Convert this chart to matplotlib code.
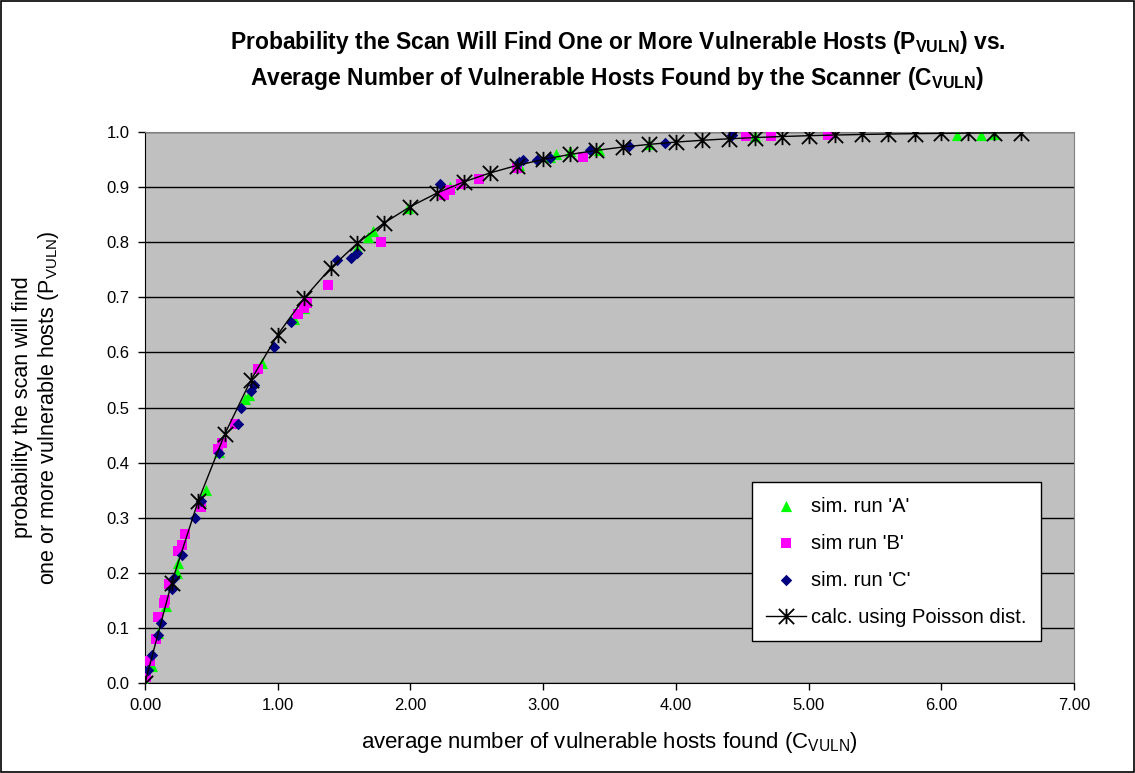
import matplotlib
matplotlib.use("Agg")
import matplotlib.pyplot as plt
from matplotlib.path import Path
from matplotlib.patches import Rectangle

plt.rcParams['font.family'] = ['Liberation Sans', 'DejaVu Sans']
plt.rcParams['mathtext.fontset'] = 'custom'
plt.rcParams['mathtext.rm'] = 'Liberation Sans'
plt.rcParams['mathtext.bf'] = 'Liberation Sans:bold'

# ---- data ----
a_x = [0.00, 0.05, 0.10, 0.16, 0.24, 0.25, 0.42, 0.46, 0.56, 0.75, 0.78, 0.88, 1.12, 1.20,
       1.60, 1.68, 1.72, 1.98, 2.30, 2.82, 3.05, 3.10, 3.20, 3.42, 3.80, 4.60, 6.12, 6.30, 6.40]
a_y = [0.000, 0.030, 0.090, 0.140, 0.200, 0.218, 0.330, 0.350, 0.420, 0.515, 0.522, 0.580, 0.660, 0.680,
       0.790, 0.810, 0.820, 0.862, 0.900, 0.940, 0.955, 0.960, 0.965, 0.967, 0.978, 0.993, 0.995, 0.995, 0.996]

b_x = [0.01, 0.04, 0.08, 0.10, 0.14, 0.15, 0.18, 0.25, 0.28, 0.30, 0.42, 0.55, 0.58, 0.68, 0.85,
       1.15, 1.20, 1.22, 1.38, 1.78, 2.25, 2.30, 2.38, 2.52, 2.80, 3.30, 4.53, 4.72, 5.15]
b_y = [0.010, 0.040, 0.080, 0.120, 0.145, 0.151, 0.180, 0.240, 0.250, 0.270, 0.320, 0.425, 0.435, 0.470, 0.570,
       0.670, 0.680, 0.690, 0.722, 0.800, 0.885, 0.895, 0.905, 0.915, 0.935, 0.955, 0.993, 0.993, 0.995]

c_x = [0.02, 0.05, 0.10, 0.12, 0.20, 0.22, 0.28, 0.38, 0.42, 0.56, 0.70, 0.72, 0.80, 0.82, 0.97,
       1.10, 1.45, 1.55, 1.60, 2.22, 2.82, 2.85, 2.95, 3.05, 3.35, 3.65, 3.92, 4.42]
c_y = [0.024, 0.050, 0.087, 0.108, 0.170, 0.190, 0.232, 0.300, 0.330, 0.418, 0.470, 0.500, 0.530, 0.540, 0.610,
       0.656, 0.768, 0.772, 0.780, 0.905, 0.945, 0.950, 0.950, 0.952, 0.967, 0.975, 0.980, 0.995]

p_x = [0.0, 0.2, 0.4, 0.6, 0.8, 1.0, 1.2, 1.4, 1.6, 1.8, 2.0, 2.2, 2.4, 2.6, 2.8, 3.0, 3.2,
       3.4, 3.6, 3.8, 4.0, 4.2, 4.4, 4.6, 4.8, 5.0, 5.2, 5.4, 5.6, 5.8, 6.0, 6.2, 6.4, 6.6]
p_y = [0.0000, 0.1813, 0.3297, 0.4512, 0.5507, 0.6321, 0.6988, 0.7534, 0.7981, 0.8347, 0.8647,
       0.8892, 0.9093, 0.9257, 0.9392, 0.9502, 0.9592, 0.9666, 0.9727, 0.9776, 0.9817, 0.9850,
       0.9877, 0.9899, 0.9918, 0.9933, 0.9945, 0.9955, 0.9963, 0.9970, 0.9975, 0.9980, 0.9983, 0.9986]

x_ticks = [0, 1, 2, 3, 4, 5, 6, 7]
x_tick_labels = ['0.00', '1.00', '2.00', '3.00', '4.00', '5.00', '6.00', '7.00']
y_ticks = [0.0, 0.1, 0.2, 0.3, 0.4, 0.5, 0.6, 0.7, 0.8, 0.9, 1.0]
y_tick_labels = ['0.0', '0.1', '0.2', '0.3', '0.4', '0.5', '0.6', '0.7', '0.8', '0.9', '1.0']

# ---- figure ----
fig = plt.figure(figsize=(11.35, 7.73), dpi=100)
ax = fig.add_axes([145/1135, 1 - 683/773, (1074 - 145)/1135, (683 - 132)/773])
ax.set_facecolor('#C0C0C0')

star = Path([(0, -1), (0, 1), (-1, -1), (1, 1), (-1, 1), (1, -1)],
            [Path.MOVETO, Path.LINETO, Path.MOVETO, Path.LINETO, Path.MOVETO, Path.LINETO])

ax.scatter(a_x, a_y, marker='^', s=65, color='#00FF00', linewidths=0, label="sim. run 'A'", zorder=3)
ax.scatter(b_x, b_y, marker='s', s=52, color='#FF00FF', linewidths=0, label="sim run 'B'", zorder=3)
ax.scatter(c_x, c_y, marker='D', s=34, color='#000080', linewidths=0, label="sim. run 'C'", zorder=4)
ax.plot(p_x, p_y, color='black', lw=1, marker=star, markersize=11, markeredgewidth=1.3,
        markerfacecolor='none', markeredgecolor='black', label='calc. using Poisson dist.', zorder=5)

ax.set_xlim(0, 7)
ax.set_ylim(0, 1)
ax.set_xticks(x_ticks)
ax.set_xticklabels(x_tick_labels)
ax.set_yticks(y_ticks)
ax.set_yticklabels(y_tick_labels)
ax.tick_params(labelsize=12, length=5, width=1, color='black', pad=6)
ax.yaxis.grid(True, color='black', lw=1)
ax.set_axisbelow(True)
for s in ['top', 'right']:
    ax.spines[s].set_color('#808080')
for s in ['left', 'bottom']:
    ax.spines[s].set_color('black')

ax.set_xlabel(r'average number of vulnerable hosts found (C$_{\mathrm{VULN}}$)', fontsize=16, labelpad=12)
ax.set_ylabel('probability the scan will find\n' + r'one or more vulnerable hosts (P$_{\mathrm{VULN}}$)',
              fontsize=15.5, linespacing=1.15)
ax.yaxis.set_label_coords(-84/929, 0.5)

fig.text(0.544, 1 - 42/773,
         r'Probability the Scan Will Find One or More Vulnerable Hosts (P$_{\mathbf{VULN}}$) vs.',
         ha='center', va='center', fontsize=16.5, fontweight='bold')
fig.text(0.544, 1 - 78/773,
         r'Average Number of Vulnerable Hosts Found by the Scanner (C$_{\mathbf{VULN}}$)',
         ha='center', va='center', fontsize=16.5, fontweight='bold')

leg = ax.legend(loc='lower right', bbox_to_anchor=((1041 - 145)/929, (683 - 641)/551),
                fontsize=14.5, frameon=True, fancybox=False, framealpha=1, edgecolor='black',
                borderpad=0.7, labelspacing=0.9, handlelength=2.0, handletextpad=0.25,
                borderaxespad=0)
leg.get_frame().set_linewidth(1)

fig.patches.append(Rectangle((0.0005, 0.0008), 0.999, 0.998, transform=fig.transFigure,
                             fill=False, edgecolor='black', lw=1.2))

fig.savefig('out.png', dpi=100)
